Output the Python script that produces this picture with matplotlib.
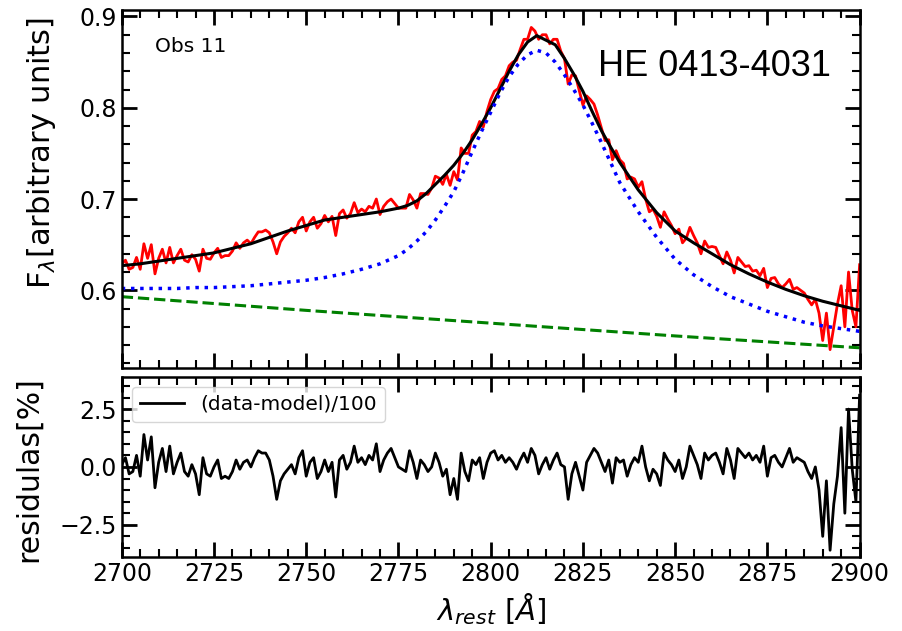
import numpy as np
import matplotlib
matplotlib.use('Agg')
import matplotlib.pyplot as plt
from matplotlib.ticker import MultipleLocator

# ---- observed spectrum (1 A bins), 2700-2900 A ----
wave = np.arange(2700, 2901)
flux = [
    0.629, 0.633, 0.623, 0.625, 0.636, 0.623, 0.651, 0.635, 0.650, 0.618,
    0.635, 0.645, 0.630, 0.647, 0.630, 0.638, 0.645, 0.633, 0.631, 0.639,
    0.634, 0.621, 0.645, 0.635, 0.634, 0.641, 0.646, 0.636, 0.638, 0.638,
    0.643, 0.652, 0.646, 0.652, 0.655, 0.651, 0.658, 0.664, 0.664, 0.666,
    0.663, 0.653, 0.640, 0.653, 0.659, 0.663, 0.668, 0.663, 0.675, 0.680,
    0.665, 0.675, 0.680, 0.668, 0.673, 0.682, 0.675, 0.681, 0.660, 0.684,
    0.688, 0.679, 0.684, 0.696, 0.685, 0.689, 0.686, 0.692, 0.690, 0.700,
    0.683, 0.692, 0.697, 0.700, 0.695, 0.690, 0.690, 0.690, 0.705, 0.699,
    0.690, 0.706, 0.706, 0.705, 0.712, 0.725, 0.723, 0.716, 0.727, 0.715,
    0.730, 0.721, 0.756, 0.750, 0.750, 0.770, 0.774, 0.785, 0.779, 0.796,
    0.809, 0.818, 0.821, 0.831, 0.835, 0.846, 0.850, 0.852, 0.864, 0.875,
    0.875, 0.888, 0.884, 0.875, 0.880, 0.880, 0.870, 0.875, 0.875, 0.862,
    0.854, 0.826, 0.836, 0.835, 0.819, 0.803, 0.813, 0.809, 0.804, 0.792,
    0.778, 0.764, 0.765, 0.743, 0.753, 0.743, 0.739, 0.722, 0.724, 0.722,
    0.713, 0.719, 0.700, 0.686, 0.689, 0.681, 0.669, 0.686, 0.678, 0.671,
    0.662, 0.667, 0.652, 0.657, 0.669, 0.660, 0.652, 0.640, 0.654, 0.647,
    0.648, 0.647, 0.638, 0.629, 0.642, 0.633, 0.619, 0.636, 0.631, 0.626,
    0.627, 0.621, 0.622, 0.616, 0.624, 0.603, 0.613, 0.614, 0.607, 0.603,
    0.607, 0.612, 0.601, 0.603, 0.600, 0.597, 0.590, 0.584, 0.590, 0.575,
    0.545, 0.575, 0.535, 0.560, 0.585, 0.605, 0.560, 0.620, 0.578, 0.560,
    0.628,
]

# ---- best-fit model: total, broad MgII component, power-law continuum ----
model_wave = [2700, 2705, 2710, 2715, 2720, 2725, 2730, 2735, 2740, 2745,
              2750, 2755, 2760, 2765, 2770, 2775, 2777.5, 2780, 2782.5, 2785,
              2787.5, 2790, 2792.5, 2795, 2797.5, 2800, 2802.5, 2805, 2807.5,
              2810, 2812.5, 2815, 2817.5, 2820, 2822.5, 2825, 2827.5, 2830,
              2832.5, 2835, 2840, 2845, 2850, 2855, 2860, 2865, 2870, 2875,
              2880, 2885, 2890, 2895, 2900]
model_total = [0.627, 0.629, 0.632, 0.635, 0.638, 0.641, 0.646, 0.651, 0.658,
               0.665, 0.671, 0.677, 0.680, 0.683, 0.686, 0.690, 0.693, 0.698,
               0.706, 0.716, 0.726, 0.737, 0.750, 0.765, 0.782, 0.800, 0.820,
               0.840, 0.858, 0.872, 0.879, 0.874, 0.869, 0.854, 0.837, 0.818,
               0.796, 0.775, 0.757, 0.740, 0.710, 0.685, 0.665, 0.652, 0.640,
               0.628, 0.618, 0.609, 0.601, 0.594, 0.588, 0.583, 0.578]
model_broad = [0.602, 0.602, 0.602, 0.602, 0.603, 0.603, 0.604, 0.605, 0.607,
               0.609, 0.611, 0.614, 0.618, 0.623, 0.629, 0.638, 0.645, 0.654,
               0.664, 0.677, 0.692, 0.708, 0.729, 0.752, 0.774, 0.795, 0.816,
               0.834, 0.848, 0.858, 0.863, 0.860, 0.850, 0.836, 0.820, 0.803,
               0.783, 0.762, 0.740, 0.718, 0.686, 0.658, 0.634, 0.617, 0.604,
               0.593, 0.585, 0.577, 0.571, 0.565, 0.561, 0.558, 0.555]
cont_wave = [2700, 2750, 2800, 2850, 2900]
cont_flux = [0.593, 0.578, 0.564, 0.550, 0.537]

# ---- residuals (data-model), 1 A bins ----
resid = [
    0.1, 0.4, -0.3, -0.2, 0.5, -0.4, 1.4, 0.3, 1.3, -0.9,
    0.2, 0.8, -0.2, 0.9, -0.3, 0.2, 0.6, -0.2, -0.4, 0.1,
    -0.3, -1.2, 0.4, -0.3, -0.4, 0.0, 0.3, -0.5, -0.4, -0.5,
    -0.2, 0.3, -0.1, 0.2, 0.3, 0.0, 0.4, 0.7, 0.6, 0.6,
    0.3, -0.4, -1.4, -0.6, -0.3, -0.1, 0.1, -0.3, 0.4, 0.7,
    -0.4, 0.2, 0.4, -0.5, -0.2, 0.3, -0.2, 0.2, -1.3, 0.3,
    0.5, -0.1, 0.2, 0.9, 0.2, 0.4, 0.1, 0.5, 0.3, 1.0,
    -0.2, 0.3, 0.6, 0.8, 0.4, 0.0, -0.1, -0.2, 0.7, 0.2,
    -0.5, 0.3, 0.1, -0.2, 0.0, 0.6, 0.2, -0.4, -0.1, -1.2,
    -0.5, -1.4, 0.6, -0.2, -0.6, 0.3, 0.1, 0.4, -0.5, 0.2,
    0.6, 0.7, 0.3, 0.5, 0.2, 0.4, 0.2, -0.1, 0.3, 0.6,
    0.2, 0.8, 0.5, -0.3, 0.1, 0.4, -0.1, 0.3, 0.6, 0.1,
    0.0, -1.4, -0.3, 0.2, -0.4, -1.0, 0.2, 0.5, 0.8, 0.6,
    0.2, -0.2, 0.3, -0.7, 0.4, 0.2, 0.3, -0.4, 0.1, 0.4,
    0.2, 0.9, 0.0, -0.6, -0.1, -0.3, -0.8, 0.6, 0.3, 0.1,
    -0.2, 0.3, -0.5, 0.0, 0.9, 0.5, 0.1, -0.5, 0.6, 0.3,
    0.5, 0.6, 0.2, -0.3, 0.8, 0.3, -0.5, 0.8, 0.6, 0.4,
    0.6, 0.3, 0.5, 0.2, 0.9, -0.4, 0.4, 0.5, 0.2, 0.0,
    0.4, 0.8, 0.2, 0.4, 0.3, 0.2, -0.2, -0.5, 0.0, -1.0,
    -3.0, -0.6, -3.6, -1.6, -0.4, 1.7, -2.0, 2.5, -0.1, -1.5,
    3.1,
]

fig = plt.figure(figsize=(9.02, 6.31), dpi=100)
ax = fig.add_axes([0.135, 0.417, 0.818, 0.567])
axr = fig.add_axes([0.135, 0.117, 0.818, 0.286], sharex=ax)

ax.plot(wave, flux, color='red', lw=2)
ax.plot(model_wave, model_total, color='k', lw=2.2)
ax.plot(model_wave, model_broad, color='blue', ls=':', lw=2.5)
ax.plot(cont_wave, cont_flux, color='green', ls='--', lw=2.2)

ax.set_xlim(2700, 2900)
ax.set_ylim(0.515, 0.907)
ax.set_ylabel(r'F$_\lambda$[arbitrary units]', fontsize=22)
ax.yaxis.set_label_coords(-0.087, 0.60)
ax.text(0.045, 0.897, 'Obs 11', transform=ax.transAxes, fontsize=14.5,
        va='center')
ax.text(0.645, 0.843, 'HE 0413-4031', transform=ax.transAxes, fontsize=26,
        family='Liberation Sans', va='center')
ax.yaxis.set_major_locator(MultipleLocator(0.1))
ax.yaxis.set_minor_locator(MultipleLocator(0.02))
ax.tick_params(labelbottom=False)

axr.plot(wave, resid, color='k', lw=2, label='(data-model)/100')
axr.set_ylim(-3.9, 3.9)
axr.set_ylabel('residulas[%]', fontsize=21.5)
axr.yaxis.set_label_coords(-0.107, 0.49)
axr.set_xlabel(r'$\lambda_{rest}$ [$\AA$]', fontsize=21)
axr.yaxis.set_major_locator(MultipleLocator(2.5))
axr.yaxis.set_minor_locator(MultipleLocator(0.5))
axr.legend(loc='upper left', fontsize=14.5, handlelength=2.2)

for a in (ax, axr):
    a.xaxis.set_major_locator(MultipleLocator(25))
    a.xaxis.set_minor_locator(MultipleLocator(5))
    a.tick_params(which='both', direction='in', top=True, right=True,
                  labelsize=17)
    a.tick_params(which='major', length=11, width=2)
    a.tick_params(which='minor', length=5.5, width=1.5)
    for sp in a.spines.values():
        sp.set_linewidth(1.8)

fig.savefig('out.png', dpi=100, facecolor='white')
